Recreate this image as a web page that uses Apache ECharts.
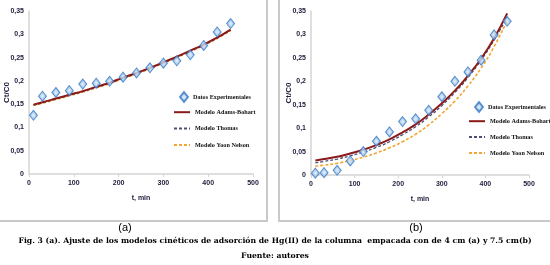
<!DOCTYPE html>
<html>
<head>
<meta charset="utf-8">
<script src="https://cdn.jsdelivr.net/npm/echarts@6/dist/echarts.min.js"></script>
<style>
html,body{margin:0;padding:0;background:#fff;}
#c{width:550px;height:265px;}
</style>
</head>
<body>
<div id="c"></div>
<script>
// ---- data ----
var tValues = [10,30,60,90,120,150,180,210,240,270,300,330,360,390,420,450];
var xTicks = [0,100,200,300,400,500];
var yTicks = [0,0.05,0.1,0.15,0.2,0.25,0.3,0.35];

// panel (a): column 4 cm
var expA    = [0.126,0.167,0.175,0.179,0.193,0.195,0.199,0.208,0.217,0.228,0.238,0.243,0.256,0.276,0.305,0.323];
var adamsA  = [0.149,0.154,0.162,0.170,0.178,0.187,0.196,0.207,0.217,0.228,0.240,0.252,0.265,0.278,0.293,0.310];
var thomasA = [0.148,0.153,0.161,0.169,0.177,0.186,0.195,0.206,0.216,0.227,0.239,0.251,0.264,0.277,0.292,0.309];
var yoonA   = [0.147,0.152,0.160,0.168,0.176,0.185,0.194,0.205,0.215,0.226,0.238,0.250,0.263,0.276,0.291,0.308];

// panel (b): column 7.5 cm
var expB    = [0.004,0.005,0.010,0.030,0.050,0.072,0.092,0.114,0.120,0.138,0.167,0.200,0.220,0.245,0.299,0.328];
var adamsB  = [0.031,0.034,0.039,0.046,0.054,0.064,0.076,0.091,0.108,0.129,0.153,0.180,0.212,0.248,0.292,0.345];
var thomasB = [0.026,0.029,0.034,0.041,0.049,0.059,0.071,0.086,0.103,0.124,0.148,0.176,0.208,0.245,0.288,0.337];
var yoonB   = [0.019,0.021,0.025,0.031,0.038,0.047,0.058,0.071,0.087,0.107,0.131,0.158,0.190,0.228,0.274,0.330];

var seriesNames = ['Datos Experimentales','Modelo Adams-Bohart','Modelo Thomas','Modelo Yoon Nelson'];
var xAxisTitle = 't, min';
var yAxisTitle = 'Ct/C0';
var panelLabels = ['(a)','(b)'];
var captionText = 'Fig. 3 (a). Ajuste de los modelos cinéticos de adsorción de Hg(II) de la columna  empacada con de 4 cm (a) y 7.5 cm(b)';
var sourceText = 'Fuente: autores';

// ---- build ----
function pairs(xs, ys){ return xs.map(function(x,i){ return [x, ys[i]]; }); }

var sans = "'Liberation Sans',Arial,sans-serif";
var serif = "'Liberation Serif','Times New Roman',serif";
var txtColor = '#1c1c3c';

function xAxisFor(gi){
  return {
    gridIndex: gi, type:'value', min:0, max:500, interval:100,
    name: xAxisTitle, nameLocation:'middle', nameGap:21, nameMoveOverlap:false,
    nameTextStyle:{fontFamily:sans,fontWeight:'bold',fontSize:7,color:txtColor},
    axisLine:{lineStyle:{color:'#d4d4d4',width:1.5}},
    axisTick:{show:true,length:3,lineStyle:{color:'#d4d4d4'}},
    axisLabel:{fontFamily:sans,fontWeight:'bold',fontSize:7,color:txtColor,margin:6},
    splitLine:{show:false}
  };
}
function yAxisFor(gi){
  return {
    gridIndex: gi, type:'value', min:0, max:0.35, interval:0.05,
    name: yAxisTitle, nameLocation:'middle', nameGap:18, nameRotate:90, nameMoveOverlap:false,
    nameTextStyle:{fontFamily:sans,fontWeight:'bold',fontSize:8,color:txtColor},
    axisLine:{show:true,lineStyle:{color:'#d4d4d4',width:1.5}},
    axisTick:{show:false},
    axisLabel:{fontFamily:sans,fontWeight:'bold',fontSize:7,color:txtColor,margin:5,
      formatter:function(v){ return String(Math.round(v*100)/100).replace('.',','); }},
    splitLine:{show:false}
  };
}

var diamondColor = {
  type:'radial', x:0.5, y:0.5, r:0.6,
  colorStops:[{offset:0,color:'#e3eef9'},{offset:0.45,color:'#9cc3ea'},{offset:1,color:'#3f84cc'}]
};

function seriesFor(gi, exp, ad, th, yo){
  return [
    {name:seriesNames[3], type:'line', xAxisIndex:gi, yAxisIndex:gi, data:pairs(tValues, yo),
     smooth:true, symbol:'none', lineStyle:{color:'#f2a531',width:1.6,type:[3,2]}, itemStyle:{color:'#f2a531'}, z:2},
    {name:seriesNames[2], type:'line', xAxisIndex:gi, yAxisIndex:gi, data:pairs(tValues, th),
     smooth:true, symbol:'none', lineStyle:{color:'#4d4f72',width:1.3,type:[3,2]}, itemStyle:{color:'#4d4f72'}, z:3},
    {name:seriesNames[1], type:'line', xAxisIndex:gi, yAxisIndex:gi, data:pairs(tValues, ad),
     smooth:true, symbol:'none', lineStyle:{color:'#8b1a1a',width:2}, itemStyle:{color:'#8b1a1a'}, z:4},
    {name:seriesNames[0], type:'scatter', xAxisIndex:gi, yAxisIndex:gi, data:pairs(tValues, exp),
     symbol:'diamond', symbolSize:[8,10],
     itemStyle:{color:diamondColor, borderColor:'#3a7bc2', borderWidth:1}, z:5}
  ];
}

var s = [].concat(seriesFor(0, expA, adamsA, thomasA, yoonA), seriesFor(1, expB, adamsB, thomasB, yoonB));

var legendText = {fontFamily:serif,fontWeight:'bold',fontSize:6.2,color:'#111'};
function scatterLegend(left, top){
  return {
    orient:'vertical', left:left, top:top, itemWidth:8, itemHeight:10,
    data:[{name:seriesNames[0]}], textStyle:legendText, selectedMode:false, padding:0
  };
}
function lineLegend(left, top, gap){
  return {
    orient:'vertical', left:left, top:top, itemWidth:16, itemHeight:8, itemGap:gap,
    data:seriesNames.slice(1).map(function(n){return {name:n};}),
    itemStyle:{opacity:0},
    textStyle:legendText, selectedMode:false, padding:0
  };
}

var chart = echarts.init(document.getElementById('c'), null, {renderer:'canvas'});
chart.setOption({
  animation:false,
  backgroundColor:'#fff',
  grid:[
    {left:29, top:11, width:224, height:163},
    {left:311, top:11, width:218, height:164}
  ],
  xAxis:[xAxisFor(0), xAxisFor(1)],
  yAxis:[yAxisFor(0), yAxisFor(1)],
  legend:[scatterLegend(179, 91), lineLegend(173, 109, 10), scatterLegend(474, 101), lineLegend(468, 118, 9.5)],
  series:s,
  graphic:[
    {type:'line', shape:{x1:267,y1:0,x2:267,y2:221}, style:{stroke:'#c9c9c9',lineWidth:2}, silent:true},
    {type:'line', shape:{x1:0,y1:221,x2:268,y2:221}, style:{stroke:'#c9c9c9',lineWidth:2}, silent:true},
    {type:'line', shape:{x1:279,y1:0,x2:279,y2:221}, style:{stroke:'#c9c9c9',lineWidth:2}, silent:true},
    {type:'line', shape:{x1:278,y1:221,x2:550,y2:221}, style:{stroke:'#c9c9c9',lineWidth:2}, silent:true},
    {type:'text', x:125, y:228, style:{text:panelLabels[0], font:'11px "Liberation Sans", Arial, sans-serif', fill:'#000', align:'center', verticalAlign:'middle'}},
    {type:'text', x:416, y:228, style:{text:panelLabels[1], font:'11px "Liberation Sans", Arial, sans-serif', fill:'#000', align:'center', verticalAlign:'middle'}},
    {type:'text', x:275, y:241, style:{text:captionText, font:'bold 7.7px "DejaVu Serif", "Liberation Serif", serif', fill:'#000', align:'center', verticalAlign:'middle'}},
    {type:'text', x:275, y:256, style:{text:sourceText, font:'bold 7.7px "DejaVu Serif", "Liberation Serif", serif', fill:'#000', align:'center', verticalAlign:'middle'}}
  ]
});
</script>
</body>
</html>
